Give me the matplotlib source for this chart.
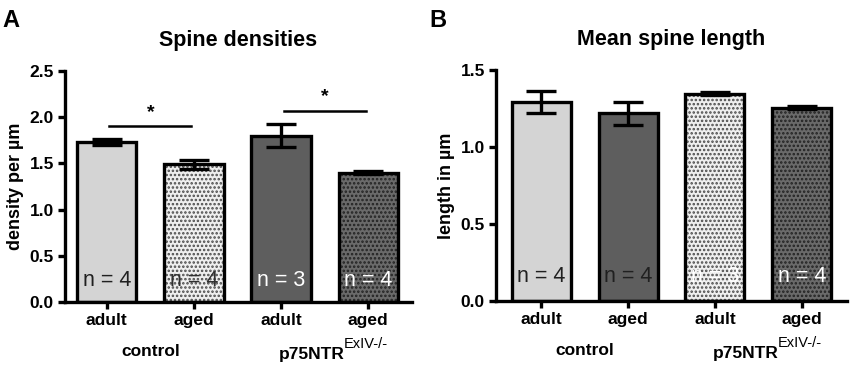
import numpy as np
import matplotlib
matplotlib.use("Agg")
import matplotlib.pyplot as plt

plt.rcParams['font.family'] = ['Liberation Sans', 'DejaVu Sans']
plt.rcParams['hatch.linewidth'] = 1.2

groups = ['adult', 'aged', 'adult', 'aged']
group_names = ['control', 'p75NTR']
group_sup = 'ExIV-/-'

# panel A: spine densities
dens_mean = [1.73, 1.49, 1.80, 1.40]
dens_err = [0.03, 0.045, 0.125, 0.015]
dens_n = ['n = 4', 'n = 4', 'n = 3', 'n = 4']
dens_sig = [(0.03, 0.97, 1.90), (2.03, 2.97, 2.07)]

# panel B: mean spine length
len_mean = [1.29, 1.22, 1.345, 1.255]
len_err = [0.07, 0.075, 0.01, 0.01]
len_n = ['n = 4', 'n = 4', 'n = 3', 'n = 4']

# styles (face, hatch, hatch colour)
LIGHT = ('#d4d4d4', None, None)
DARK = ('#5e5e5e', None, None)
LIGHT_DOT = ('#efefef', '....', '#4a4a4a')
DARK_DOT = ('#6a6a6a', '....', '#222222')
styles_a = [LIGHT, LIGHT_DOT, DARK, DARK_DOT]
styles_b = [LIGHT, DARK, LIGHT_DOT, DARK_DOT]
ncol_a = ['#202020', '#303030', 'white', 'white']
ncol_b = ['#202020', '#202020', 'white', 'white']

LW = 2.4


def panel(ax, means, errs, nlab, styles, ncols, ymax, yticks, ylabel, title, xl, nfrac):
    x = np.arange(len(means))
    for i in range(len(means)):
        face, hatch, hcol = styles[i]
        if hatch:
            ax.bar(x[i], means[i], width=0.68, color=face, edgecolor=hcol,
                   hatch=hatch, linewidth=0, zorder=2)
        else:
            ax.bar(x[i], means[i], width=0.68, color=face, linewidth=0, zorder=2)
        ax.bar(x[i], means[i], width=0.68, fill=False, edgecolor='black',
               linewidth=LW, zorder=3)
        ax.text(x[i], ymax * nfrac, nlab[i], ha='center', va='center',
                fontsize=15.5, color=ncols[i], zorder=5)
    ax.errorbar(x, means, yerr=errs, fmt='none', ecolor='black',
                elinewidth=LW, capsize=10.5, capthick=LW, zorder=4)
    ax.set_xlim(*xl)
    ax.set_ylim(0, ymax)
    ax.set_yticks(yticks)
    ax.set_yticklabels(['%.1f' % v for v in yticks])
    ax.set_xticks(x)
    ax.set_xticklabels(groups)
    for s in ['top', 'right']:
        ax.spines[s].set_visible(False)
    for s in ['left', 'bottom']:
        ax.spines[s].set_linewidth(LW)
    ax.tick_params(width=LW, length=5, labelsize=12.5, pad=3)
    for lab in ax.get_xticklabels() + ax.get_yticklabels():
        lab.set_fontweight('bold')
    ax.set_ylabel(ylabel, fontsize=13, fontweight='bold', labelpad=4)
    ax.set_title(title, fontsize=15.5, fontweight='bold', pad=18)
    # group labels
    tr = ax.get_xaxis_transform()
    ax.text(0.5, -0.215, group_names[0], transform=tr, ha='center',
            va='center', fontsize=12.5, fontweight='bold')
    t = ax.text(2.35, -0.225, group_names[1], transform=tr, ha='center',
                va='center', fontsize=12.5, fontweight='bold')
    ax.annotate(group_sup, xy=(1, 1), xycoords=t, xytext=(-0.5, -3),
                textcoords='offset points', ha='left', va='bottom', fontsize=10.5)


fig = plt.figure(figsize=(8.5, 3.68), dpi=100)
ax1 = fig.add_axes([0.0765, 0.179, 0.408, 0.628])
ax2 = fig.add_axes([0.5835, 0.182, 0.413, 0.628])

panel(ax1, dens_mean, dens_err, dens_n, styles_a, ncol_a, 2.5,
      [0.0, 0.5, 1.0, 1.5, 2.0, 2.5], 'density per µm', 'Spine densities',
      (-0.48, 3.5), 0.095)
panel(ax2, len_mean, len_err, len_n, styles_b, ncol_b, 1.5,
      [0.0, 0.5, 1.0, 1.5], 'length in µm', 'Mean spine length',
      (-0.52, 3.52), 0.105)

for x0, x1, y in dens_sig:
    ax1.plot([x0, x1], [y, y], color='black', linewidth=1.8, clip_on=False, zorder=4)
    ax1.text((x0 + x1) / 2, y + 0.06, '*', ha='center', va='bottom',
             fontsize=14, fontweight='bold')

fig.text(0.003, 0.975, 'A', fontsize=17, fontweight='bold', va='top')
fig.text(0.505, 0.975, 'B', fontsize=17, fontweight='bold', va='top')

fig.savefig('out.png', dpi=100)
